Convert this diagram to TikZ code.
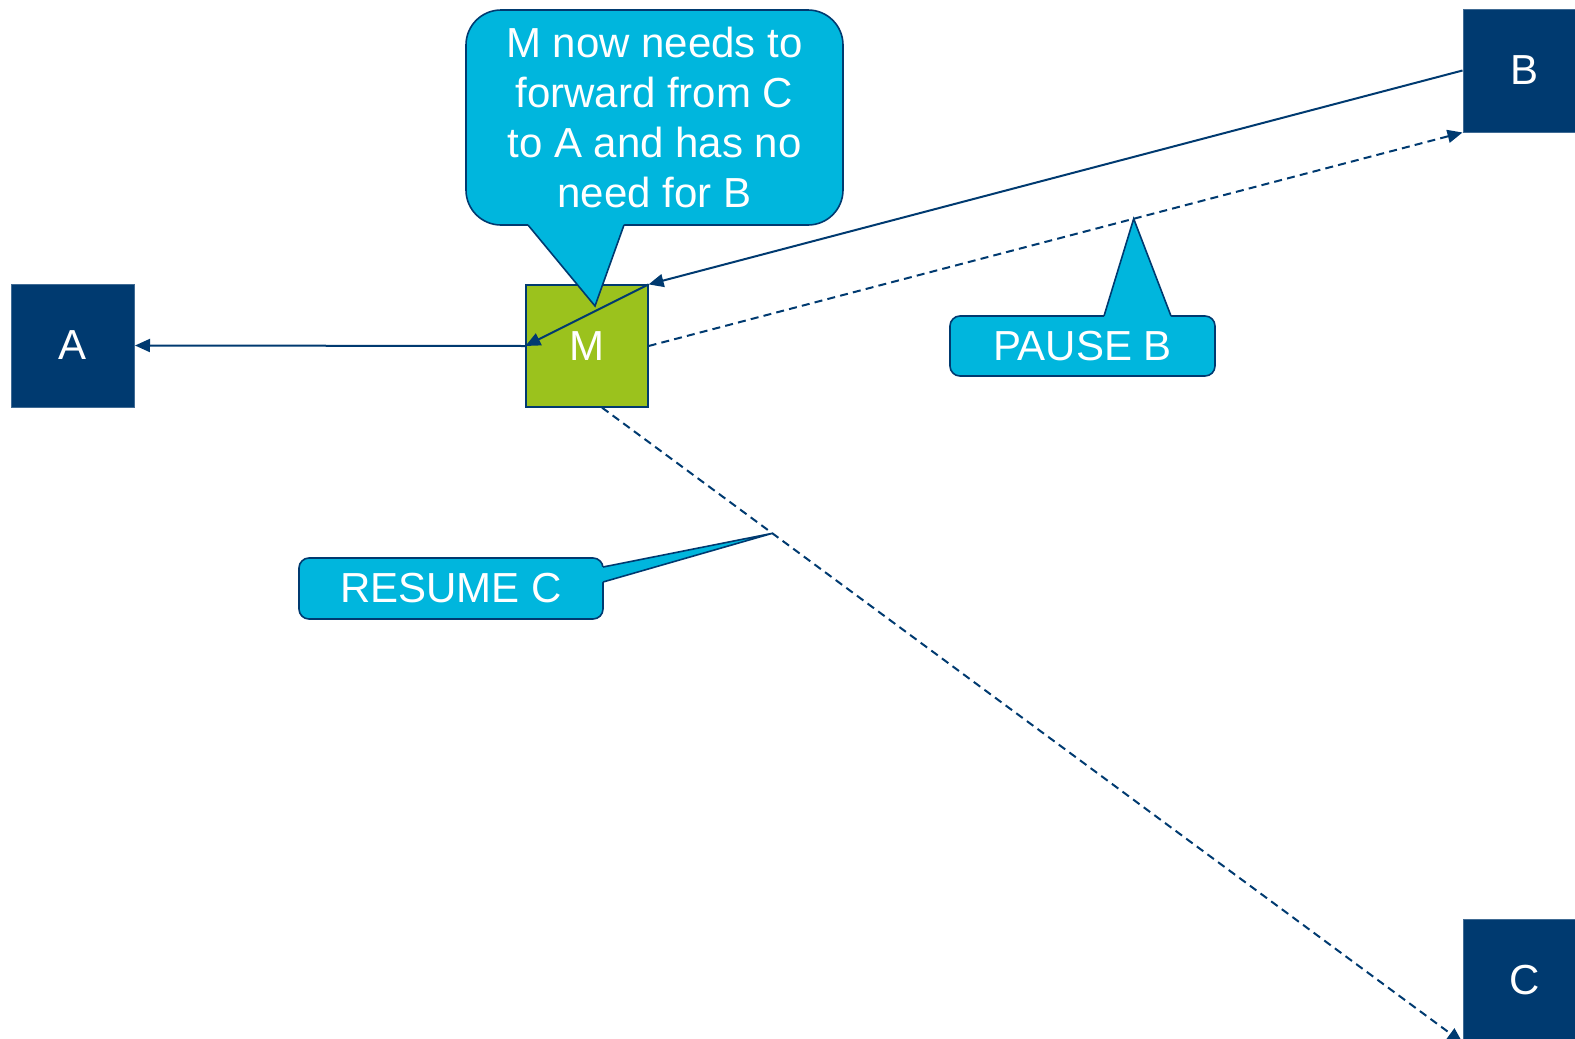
\documentclass[tikz,border=0pt]{standalone}
\usepackage{fontspec}
\setmainfont{Liberation Sans}
\usetikzlibrary{arrows.meta,calc}
\definecolor{navy}{HTML}{003A70}
\definecolor{calloutcyan}{HTML}{00B6DD}
\definecolor{mgreen}{HTML}{9BC21D}

\begin{document}
\begin{tikzpicture}[x=0.5pt, y=-0.5pt, >={Triangle[length=7.5pt,width=6.5pt]},
    every node/.style={font=\fontsize{21}{25}\selectfont, text=white},
    endbox/.style={draw=navy!75!white, fill=navy, line width=0.5pt, minimum size=61.5pt, inner sep=0pt},
    hopbox/.style={draw=navy, fill=mgreen, line width=0.6pt, minimum size=61pt, inner sep=0pt},
    callout/.style={draw=navy, fill=calloutcyan, line width=0.8pt, inner sep=0pt, align=center},
    link/.style={->, draw=navy, line width=1pt},
    dashlink/.style={link, dash pattern=on 4pt off 2.6pt}]
    \clip (0,0) rectangle (1575,1039);

    % End points A, B, C
    \foreach \n/\x/\y in {A/73/345.5, B/1524.5/70.5, C/1524.5/980.5} {
        \node[endbox] (\n) at (\x,\y) {\n};
    }
    % Middle box
    \node[hopbox] (M) at (587,346) {M};

    % Solid paths into M and on to A
    \draw[link] (B.west) -- (M.north east);
    \draw[link] (M.north east) -- (M.west);
    \draw[link] (M.west) -- (A.east);

    % Dashed paths out of M
    \coordinate (Mbot) at ($(M.south)+(15,0)$);
    \draw[dashlink] (M.east) -- (B.south west);
    \draw[dashlink] (Mbot) -- (C.south west);

    % Big callout
    \node[callout, rounded corners=17.5pt, minimum width=188.5pt, minimum height=107.5pt] (note) at (654.5,117.5)
        {M now needs to\\forward from C\\to A and has no\\need for B};
    \coordinate (noteTip) at (595,306);
    \fill[calloutcyan] (528,221) -- (528,225) -- (noteTip) -- (624,225) -- (624,221) -- cycle;
    \draw[navy, line width=0.8pt] (528,225) -- (noteTip) -- (624,225);

    % PAUSE B callout
    \node[callout, rounded corners=5pt, minimum width=132.5pt, minimum height=30pt] (pause) at (1082.5,346) {PAUSE B};
    \coordinate (pauseTip) at ($(M.east)!0.596!(B.south west)$);
    \fill[calloutcyan] (1104,320) -- (1104,316) -- (pauseTip) -- (1171,316) -- (1171,320) -- cycle;
    \draw[navy, line width=0.8pt] (1104,316) -- (pauseTip) -- (1171,316);

    % RESUME C callout
    \node[callout, rounded corners=5pt, minimum width=152pt, minimum height=30.5pt] (resume) at (451,588.5) {RESUME C};
    \coordinate (resumeTip) at ($(Mbot)!0.198!(C.south west)$);
    \fill[calloutcyan] (599,567) -- (603,567) -- (resumeTip) -- (603,582) -- (599,582) -- cycle;
    \draw[navy, line width=0.8pt] (603,567) -- (resumeTip) -- (603,582);
\end{tikzpicture}
\end{document}
